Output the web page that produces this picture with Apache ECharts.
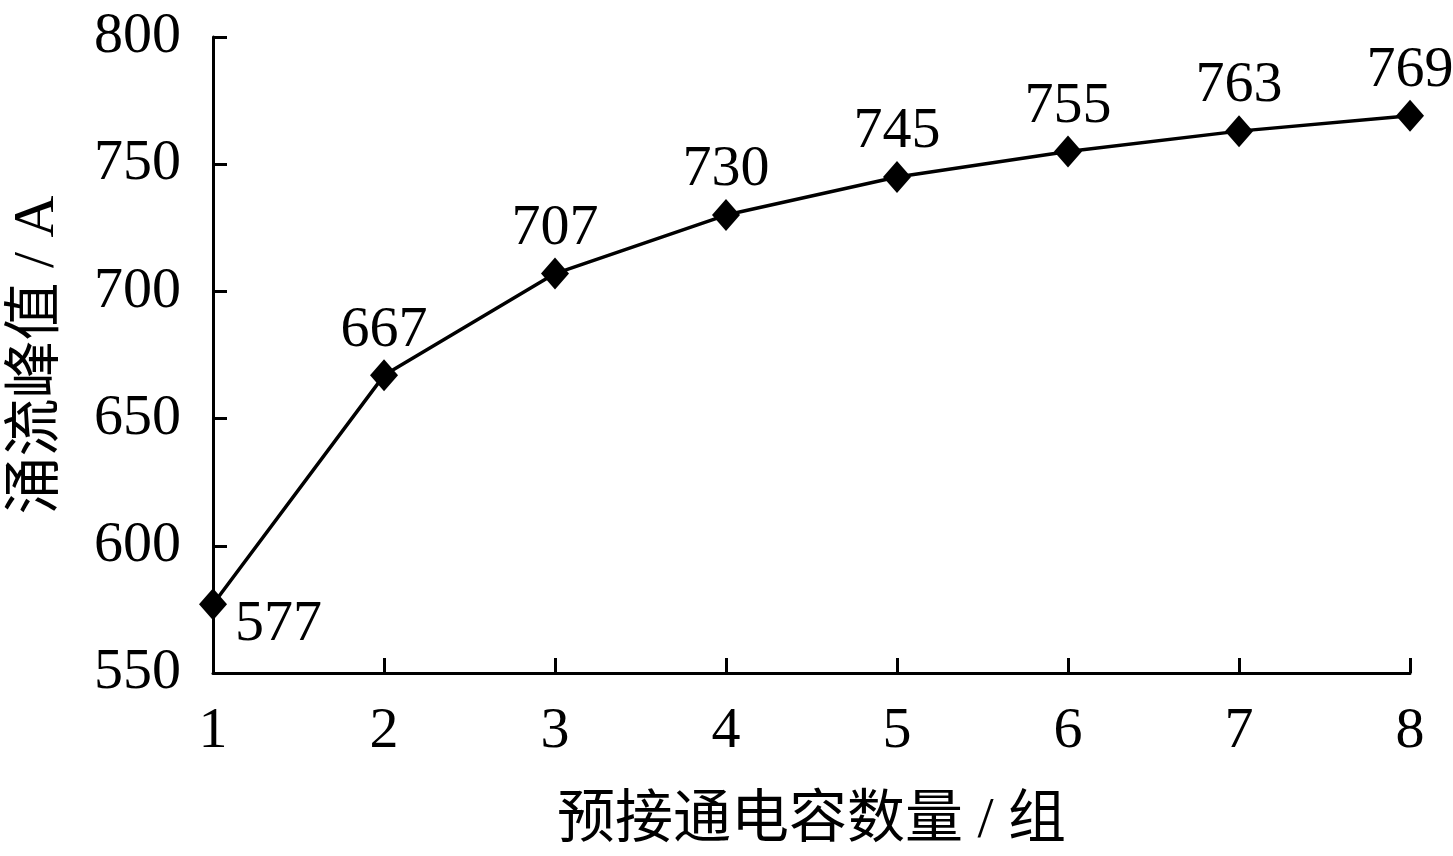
<!DOCTYPE html>
<html><head><meta charset="utf-8">
<script src="https://cdn.jsdelivr.net/npm/echarts@6/dist/echarts.min.js"></script>
<style>html,body{margin:0;padding:0;background:#fff}#c{width:1453px;height:856px}</style>
</head><body><div id="c"></div>
<script>
const xValues = [1, 2, 3, 4, 5, 6, 7, 8];
const peakCurrent = [577, 667, 707, 730, 745, 755, 763, 769];
const xName = '预接通电容数量 / 组';
const yName = '涌流峰值 / A';
const FONT = '"Liberation Serif", "Times New Roman", "Noto Sans CJK SC", serif';
const FS = 58;

const chart = echarts.init(document.getElementById('c'));
const data = xValues.map((x, i) => {
  const d = { value: [x, peakCurrent[i]] };
  if (i === 0) d.label = { position: 'right', offset: [8, 20] };
  return d;
});
chart.setOption({
  animation: false,
  backgroundColor: '#fff',
  grid: { left: 213, right: 43, top: 37, bottom: 183, containLabel: false, outerBoundsMode: 'none' },
  xAxis: {
    type: 'value', min: 1, max: 8, interval: 1,
    name: xName, nameLocation: 'middle', nameGap: 120,
    nameTextStyle: { fontFamily: FONT, fontSize: FS, color: '#000' },
    axisLine: { show: true, lineStyle: { color: '#000', width: 3 } },
    axisTick: { show: true, inside: true, length: 15, lineStyle: { color: '#000', width: 3 } },
    axisLabel: { fontFamily: FONT, fontSize: FS, color: '#000', margin: 30 },
    splitLine: { show: false }
  },
  yAxis: {
    type: 'value', min: 550, max: 800, interval: 50,
    name: yName, nameLocation: 'middle', nameGap: 146,
    nameTextStyle: { fontFamily: FONT, fontSize: FS, color: '#000' },
    axisLine: { show: true, lineStyle: { color: '#000', width: 3 } },
    axisTick: { show: true, inside: true, length: 14, lineStyle: { color: '#000', width: 3 } },
    axisLabel: { fontFamily: FONT, fontSize: FS, color: '#000', margin: 32 },
    splitLine: { show: false }
  },
  series: [{
    type: 'line',
    data: data,
    symbol: 'diamond',
    symbolSize: [28, 32],
    itemStyle: { color: '#000' },
    lineStyle: { color: '#000', width: 3.5 },
    label: { show: true, position: 'top', distance: 0, fontFamily: FONT, fontSize: FS, color: '#000' }
  }]
});
</script></body></html>
